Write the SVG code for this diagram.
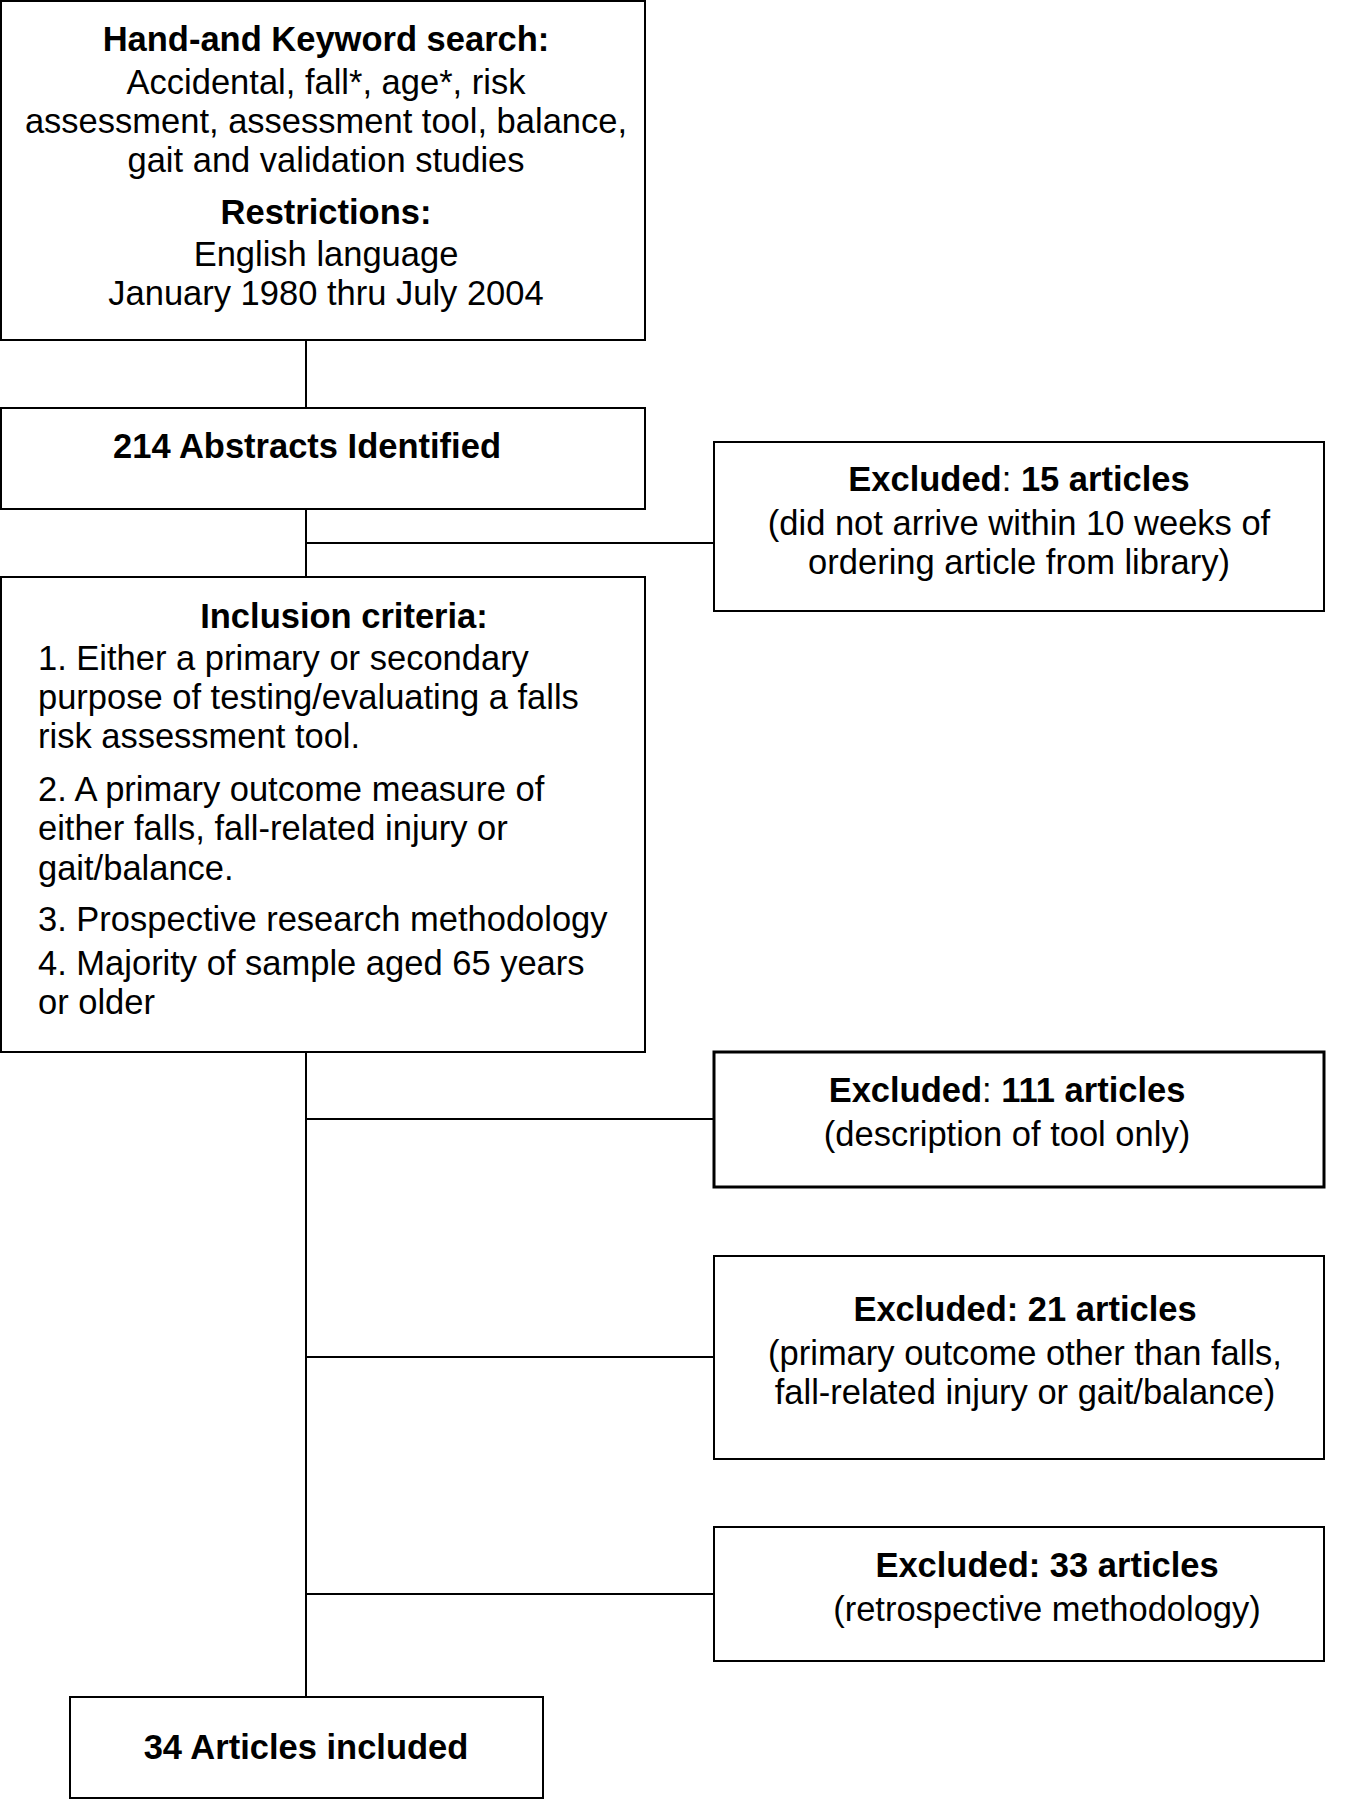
<svg xmlns="http://www.w3.org/2000/svg" width="1359" height="1800" viewBox="0 0 1359 1800">
<style>
rect{fill:#fff;stroke:#000;stroke-width:2}
text{font-family:"Liberation Sans",Arial,sans-serif;font-size:34.5px;fill:#000}
.c{text-anchor:middle}
.b{font-weight:bold}
#conn line{stroke:#000;stroke-width:2}
</style>
<rect width="1359" height="1800" style="stroke:none"/>
<g id="conn">
<line x1="306" y1="340" x2="306" y2="408"/>
<line x1="306" y1="509" x2="306" y2="577"/>
<line x1="306" y1="1052" x2="306" y2="1697"/>
<line x1="306" y1="543" x2="714" y2="543"/>
<line x1="306" y1="1119" x2="714" y2="1119"/>
<line x1="306" y1="1357" x2="714" y2="1357"/>
<line x1="306" y1="1594" x2="714" y2="1594"/>
</g>
<g id="search">
<rect x="1" y="1" width="644" height="339"/>
<text class="c b" x="326" y="51">Hand-and Keyword search:</text>
<text class="c" x="326" y="94">Accidental, fall*, age*, risk</text>
<text class="c" x="326" y="133">assessment, assessment tool, balance,</text>
<text class="c" x="326" y="172">gait and validation studies</text>
<text class="c b" x="326" y="224">Restrictions:</text>
<text class="c" x="326" y="266">English language</text>
<text class="c" x="326" y="305">January 1980 thru July 2004</text>
</g>
<g id="abstracts">
<rect x="1" y="408" width="644" height="101"/>
<text class="c b" x="307" y="458">214 Abstracts Identified</text>
</g>
<g id="excl1">
<rect x="714" y="442" width="610" height="169"/>
<text class="c" x="1019" y="491"><tspan class="b">Excluded</tspan>: <tspan class="b">15 articles</tspan></text>
<text class="c" x="1019" y="535">(did not arrive within 10 weeks of</text>
<text class="c" x="1019" y="574">ordering article from library)</text>
</g>
<g id="inclusion">
<rect x="1" y="577" width="644" height="475"/>
<text class="c b" x="344" y="628">Inclusion criteria:</text>
<text x="38" y="670">1. Either a primary or secondary</text>
<text x="38" y="709">purpose of testing/evaluating a falls</text>
<text x="38" y="748">risk assessment tool.</text>
<text x="38" y="801">2. A primary outcome measure of</text>
<text x="38" y="840">either falls, fall-related injury or</text>
<text x="38" y="880">gait/balance.</text>
<text x="38" y="931">3. Prospective research methodology</text>
<text x="38" y="975">4. Majority of sample aged 65 years</text>
<text x="38" y="1014">or older</text>
</g>
<g id="excl2">
<rect x="714" y="1052" width="610" height="135" style="stroke-width:3"/>
<text class="c" x="1007" y="1102"><tspan class="b">Excluded</tspan>: <tspan class="b">111 articles</tspan></text>
<text class="c" x="1007" y="1146">(description of tool only)</text>
</g>
<g id="excl3">
<rect x="714" y="1256" width="610" height="203"/>
<text class="c b" x="1025" y="1321">Excluded: 21 articles</text>
<text class="c" x="1025" y="1365">(primary outcome other than falls,</text>
<text class="c" x="1025" y="1404">fall-related injury or gait/balance)</text>
</g>
<g id="excl4">
<rect x="714" y="1527" width="610" height="134"/>
<text class="c b" x="1047" y="1577">Excluded: 33 articles</text>
<text class="c" x="1047" y="1621">(retrospective methodology)</text>
</g>
<g id="final">
<rect x="70" y="1697" width="473" height="101"/>
<text class="c b" x="306" y="1759">34 Articles included</text>
</g>
</svg>
